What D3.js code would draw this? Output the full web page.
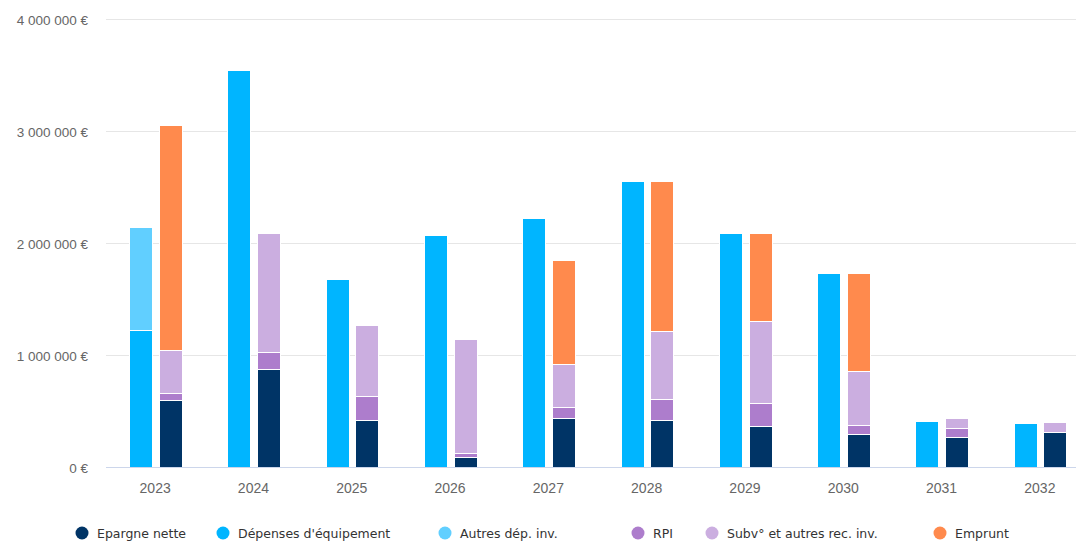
<!DOCTYPE html>
<html>
<head>
<meta charset="utf-8">
<script src="https://cdn.jsdelivr.net/npm/d3@7"></script>
<style>
  body { margin: 0; background: #fff; }
  svg { display: block; font-family: "DejaVu Sans", Verdana, sans-serif; }
</style>
</head>
<body>
<div id="chart"></div>
<script>
// data
var years = ["2023", "2024", "2025", "2026", "2027", "2028", "2029", "2030", "2031", "2032"];

// left column of each year (dépenses)
var depensesEquipement = [1225000, 3545000, 1675000, 2070000, 2222000, 2550000, 2085000, 1730000, 410000, 390000];
var autresDepInv      = [915000, 0, 0, 0, 0, 0, 0, 0, 0, 0];

// right column of each year (recettes)
var epargneNette = [600000, 875000, 420000, 90000, 435000, 420000, 370000, 295000, 270000, 315000];
var rpi          = [65000, 150000, 215000, 35000, 100000, 185000, 205000, 80000, 75000, 0];
var subvAutres   = [380000, 1060000, 635000, 1020000, 385000, 605000, 725000, 485000, 90000, 85000];
var emprunt      = [2005000, 0, 0, 0, 925000, 1340000, 785000, 870000, 0, 0];

var yTicks = [0, 1000000, 2000000, 3000000, 4000000];

var legendItems = [
  { name: "Epargne nette", color: "#003466" },
  { name: "Dépenses d'équipement", color: "#00b5ff" },
  { name: "Autres dép. inv.", color: "#61cfff" },
  { name: "RPI", color: "#ad7dcc" },
  { name: "Subv° et autres rec. inv.", color: "#cbaee0" },
  { name: "Emprunt", color: "#ff8a4d" }
];

var width = 1076, height = 542;
var margin = { top: 19, left: 106, bottom: 75 };
var plotRight = 1089;

var svg = d3.select("#chart").append("svg")
  .attr("width", width)
  .attr("height", height);

var x0 = d3.scaleBand()
  .domain(years)
  .range([margin.left, plotRight])
  .padding(0);

var x1 = d3.scaleBand()
  .domain(["dep", "rec"])
  .range([23, x0.bandwidth() - 23])
  .paddingInner(0.24)
  .paddingOuter(0);

var y = d3.scaleLinear()
  .domain([0, 4000000])
  .range([height - margin.bottom, margin.top]);

// gridlines
svg.append("g")
  .selectAll("line")
  .data(yTicks.slice(1))
  .join("line")
  .attr("x1", margin.left)
  .attr("x2", width)
  .attr("y1", d => Math.round(y(d)) + 0.5)
  .attr("y2", d => Math.round(y(d)) + 0.5)
  .attr("stroke", "#e6e6e6")
  .attr("stroke-width", 1);

// y axis labels
var fmt = d => d3.format(",")(d).replace(/,/g, " ") + " €";
var yAxis = d3.axisLeft(y)
  .tickValues(yTicks)
  .tickSize(0)
  .tickPadding(0)
  .tickFormat(fmt);

var gy = svg.append("g")
  .attr("transform", "translate(88,0)")
  .call(yAxis);
gy.select(".domain").remove();
gy.selectAll("text")
  .attr("fill", "#666666")
  .style("font-size", "13.5px")
  .attr("dy", "0.38em");

// stacked series per column
var depSeries = [
  { key: "dep", values: depensesEquipement, color: "#00b5ff" },
  { key: "dep", values: autresDepInv, color: "#61cfff" }
];
var recSeries = [
  { key: "rec", values: epargneNette, color: "#003466" },
  { key: "rec", values: rpi, color: "#ad7dcc" },
  { key: "rec", values: subvAutres, color: "#cbaee0" },
  { key: "rec", values: emprunt, color: "#ff8a4d" }
];

function drawStack(series) {
  var base = years.map(() => 0);
  series.forEach(function (s) {
    var rects = years.map(function (yr, i) {
      var r = { year: yr, y0: base[i], y1: base[i] + s.values[i] };
      base[i] = r.y1;
      return r;
    }).filter(d => d.y1 > d.y0);
    svg.append("g")
      .selectAll("rect")
      .data(rects)
      .join("rect")
      .attr("x", d => Math.round(x0(d.year) + x1(s.key)) + 0.5)
      .attr("width", Math.round(x1.bandwidth()))
      .attr("y", d => Math.round(y(d.y1)) + 0.5)
      .attr("height", d => Math.max(0, Math.round(y(d.y0)) - Math.round(y(d.y1))))
      .attr("fill", s.color)
      .attr("stroke", "#ffffff")
      .attr("stroke-width", 1);
  });
}
drawStack(depSeries);
drawStack(recSeries);

// x axis baseline + labels
svg.append("line")
  .attr("x1", margin.left)
  .attr("x2", width)
  .attr("y1", Math.round(y(0)) + 0.5)
  .attr("y2", Math.round(y(0)) + 0.5)
  .attr("stroke", "#ccd6eb")
  .attr("stroke-width", 1);

var xAxis = d3.axisBottom(x0).tickSize(0).tickPadding(0);
var gx = svg.append("g")
  .attr("transform", "translate(0," + (y(0) + 21) + ")")
  .call(xAxis);
gx.select(".domain").remove();
gx.selectAll("text")
  .attr("fill", "#666666")
  .style("font-size", "14px")
  .attr("dy", "0.35em");

// legend
var legendX = [82, 223, 445, 638, 712, 940];
var legend = svg.append("g");
var li = legend.selectAll("g")
  .data(legendItems)
  .join("g")
  .attr("transform", (d, i) => "translate(" + legendX[i] + ",533)");
li.append("circle")
  .attr("r", 6.5)
  .attr("fill", d => d.color);
li.append("text")
  .attr("x", 15)
  .attr("y", 4.5)
  .attr("fill", "#333333")
  .style("font-size", "12.5px")
  .text(d => d.name);
</script>
</body>
</html>
